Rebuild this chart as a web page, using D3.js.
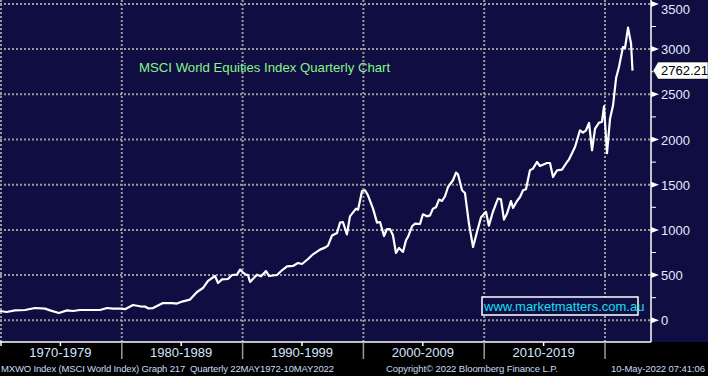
<!DOCTYPE html>
<html lang="en">
<head>
    <meta charset="UTF-8">
    <title>MSCI World Quarterly</title>
    <script src="https://d3js.org/d3.v7.min.js"></script>
    <style>
        body { margin: 0; background: #000; }
        svg { display: block; }
        text { font-family: "Liberation Sans", Arial, sans-serif; }
        .grid { stroke: #9a9a9a; stroke-width: 2; stroke-dasharray: 2,2; }
    </style>
</head>
<body>
<script>
    const width  = 708;
    const height = 376;

    // quarterly readings: decimal year, index level
    const years = [
        1970.00, 1970.55, 1971.24, 1972.07, 1972.90, 1973.73, 1974.14, 1974.88, 1975.55, 1976.04,
        1976.62, 1978.28, 1978.86, 1979.35, 1980.10, 1980.35, 1981.01, 1981.59, 1982.00, 1982.25,
        1982.67, 1983.49, 1984.24, 1984.65, 1985.15, 1985.73, 1986.31, 1986.80, 1987.22, 1987.80,
        1988.05, 1988.38, 1988.87, 1989.21, 1989.62, 1989.87, 1990.12, 1990.36, 1990.53, 1990.70,
        1991.27, 1991.61, 1992.02, 1992.27, 1992.93, 1993.34, 1993.76, 1994.25, 1994.67, 1995.00,
        1995.50, 1995.91, 1996.49, 1996.90, 1997.15, 1997.48, 1997.90, 1998.15, 1998.39, 1998.72,
        1998.97, 1999.47, 1999.64, 1999.97, 2000.22, 2000.46, 2000.88, 2001.21, 2001.46, 2001.79,
        2002.04, 2002.28, 2002.53, 2002.78, 2003.03, 2003.36, 2003.61, 2003.77, 2004.11, 2004.36,
        2004.77, 2005.01, 2005.35, 2005.60, 2005.84, 2006.09, 2006.34, 2006.59, 2006.84, 2007.09,
        2007.50, 2007.75, 2007.91, 2008.25, 2008.49, 2008.82, 2009.16, 2009.49, 2009.82, 2010.23,
        2010.47, 2010.80, 2011.22, 2011.47, 2011.72, 2011.97, 2012.30, 2012.47, 2012.80, 2013.05,
        2013.30, 2013.54, 2013.87, 2014.12, 2014.45, 2014.70, 2015.28, 2015.53, 2015.78, 2016.11,
        2016.52, 2016.94, 2017.10, 2017.44, 2017.60, 2018.01, 2018.26, 2018.51, 2018.76, 2019.01,
        2019.26, 2019.59, 2019.83, 2020.00, 2020.25, 2020.50, 2020.75, 2021.00, 2021.24, 2021.57,
        2021.74, 2021.99, 2022.24, 2022.36
    ];
    const values = [
        103, 92, 110, 114, 136, 129, 110, 81, 110, 103,
        114, 114, 136, 129, 129, 122, 169, 155, 152, 133,
        135, 191, 190, 185, 210, 229, 313, 357, 435, 490,
        413, 453, 457, 501, 505, 561, 528, 505, 500, 424,
        505, 487, 544, 490, 501, 553, 597, 601, 634, 623,
        678, 730, 782, 804, 826, 937, 966, 1081, 1087, 951,
        1150, 1235, 1224, 1430, 1438, 1383, 1235, 1081, 1087, 932,
        1010, 1010, 940, 745, 800, 756, 885, 921, 1040, 1070,
        1065, 1173, 1150, 1161, 1235, 1250, 1335, 1320, 1372, 1475,
        1549, 1634, 1615, 1438, 1408, 1070, 811, 980, 1140, 1200,
        1047, 1198, 1346, 1338, 1114, 1180, 1320, 1242, 1320, 1364,
        1438, 1449, 1659, 1678, 1751, 1707, 1740, 1740, 1585, 1659,
        1667, 1751, 1778, 1873, 1917, 2102, 2076, 2102, 2183, 1881,
        2120, 2187, 2194, 2367, 1850, 2230, 2378, 2680, 2802, 3023,
        3012, 3237, 3060, 2762.21
    ];
    const lastValue = 2762.21;

    const yTicks = [0, 500, 1000, 1500, 2000, 2500, 3000, 3500];
    const yMinor = [250, 750, 1250, 1750, 2250, 2750, 3250];
    const decades = [1970, 1980, 1990, 2000, 2010, 2020];
    const decadeLabels = ["1970-1979", "1980-1989", "1990-1999", "2000-2009", "2010-2019"];
    const halfDecades = [1975, 1985, 1995, 2005, 2015];

    const plotRight  = 651;
    const plotBottom = 342;

    const x = d3.scaleLinear().domain([1970, 1970 + plotRight / 12.08]).range([0, plotRight]);
    const y = d3.scaleLinear().domain([0, 3500]).range([320.3, 3.9]);

    const svg = d3.select("body").append("svg").attr("width", width).attr("height", height);

    svg.append("rect").attr("width", width).attr("height", height).attr("fill", "#000");
    svg.append("rect").attr("width", width).attr("height", plotBottom).attr("fill", "#100d42");

    // grid
    svg.selectAll("line.hgrid").data(yTicks).join("line").attr("class", "grid")
        .attr("x1", 0).attr("x2", plotRight)
        .attr("y1", d => y(d)).attr("y2", d => y(d));
    svg.selectAll("line.vgrid").data(decades).join("line").attr("class", "grid")
        .attr("x1", d => x(d) + 1).attr("x2", d => x(d) + 1)
        .attr("y1", 0).attr("y2", plotBottom);

    // title + watermark
    svg.append("text").attr("x", 139).attr("y", 72)
        .attr("fill", "#86f58a").attr("font-size", 13.2)
        .text("MSCI World Equities Index Quarterly Chart");

    svg.append("rect").attr("x", 482).attr("y", 297).attr("width", 156).attr("height", 18)
        .attr("fill", "#100d42").attr("stroke", "#fff").attr("stroke-width", 1.5);
    svg.append("text").attr("x", 484).attr("y", 311)
        .attr("fill", "#12e0f0").attr("font-size", 13)
        .text("www.marketmatters.com.au");

    // line
    const pts = years.map((yr, i) => [yr, values[i]]);
    svg.append("path").datum(pts)
        .attr("fill", "none").attr("stroke", "#fff").attr("stroke-width", 2.2)
        .attr("stroke-linejoin", "round")
        .attr("d", d3.line().x(d => x(d[0])).y(d => y(d[1])));

    // frame
    svg.append("line").attr("x1", plotRight).attr("x2", plotRight).attr("y1", 0).attr("y2", plotBottom)
        .attr("stroke", "#fff").attr("stroke-width", 1.5);
    svg.append("line").attr("x1", 0).attr("x2", plotRight).attr("y1", plotBottom).attr("y2", plotBottom)
        .attr("stroke", "#fff").attr("stroke-width", 1.5);

    // y axis
    const yAxis = d3.axisRight(y).tickValues(yTicks).tickFormat(d3.format("d")).tickSize(0).tickPadding(10);
    const ya = svg.append("g").attr("transform", `translate(${plotRight},0)`).call(yAxis);
    ya.select(".domain").remove();
    ya.selectAll("text")
        .attr("fill", "#e2ecff").attr("font-size", 13)
        .attr("font-family", "Liberation Sans, Arial, sans-serif")
        .attr("y", d => Math.max(y(d), 9) - y(d))
        .attr("dy", "0.36em");
    svg.selectAll("path.ytri").data(yTicks).join("path")
        .attr("fill", "#fff")
        .attr("d", d => `M${plotRight},${y(d) - 3}L${plotRight + 8},${y(d)}L${plotRight},${y(d) + 3}Z`);
    svg.selectAll("line.yminor").data(yMinor).join("line")
        .attr("stroke", "#fff").attr("stroke-width", 1)
        .attr("x1", plotRight).attr("x2", plotRight + 5)
        .attr("y1", d => y(d)).attr("y2", d => y(d));

    // last value tag
    const ly = y(lastValue);
    svg.append("path")
        .attr("fill", "#fff").attr("stroke", "#000").attr("stroke-width", 0.5)
        .attr("d", `M${plotRight + 2},${ly}L${plotRight + 7},${ly - 8.5}L${width},${ly - 8.5}L${width},${ly + 8.5}L${plotRight + 7},${ly + 8.5}Z`);
    svg.append("text").attr("x", 661).attr("y", ly).attr("dy", "0.36em")
        .attr("fill", "#000").attr("font-size", 13)
        .text(d3.format(".2f")(lastValue));

    // x axis
    svg.selectAll("line.xsep").data(decades).join("line")
        .attr("stroke", d => d === 1970 ? "#fff" : "#9a9a9a").attr("stroke-width", 1.5)
        .attr("x1", d => x(d) + 1).attr("x2", d => x(d) + 1)
        .attr("y1", plotBottom).attr("y2", d => d === 1970 ? plotBottom + 4 : plotBottom + 17);
    svg.selectAll("line.xhalf").data(halfDecades).join("line")
        .attr("stroke", "#fff").attr("stroke-width", 1.5)
        .attr("x1", d => x(d)).attr("x2", d => x(d))
        .attr("y1", plotBottom).attr("y2", plotBottom + 4);
    svg.selectAll("text.dec").data(decadeLabels).join("text")
        .attr("x", (d, i) => x(decades[i] + 5))
        .attr("y", 357)
        .attr("text-anchor", "middle")
        .attr("fill", "#d8e6ff").attr("font-size", 13)
        .text(d => d);

    // footer
    const foot = svg.append("g").attr("fill", "#c9dcf5").attr("font-size", 9.5)
        .attr("font-family", "DejaVu Sans, sans-serif");
    foot.append("text").attr("x", 1).attr("y", 372).attr("textLength", 333)
        .text("MXWO Index (MSCI World Index) Graph 217\u00A0 Quarterly 22MAY1972-10MAY2022");
    foot.append("text").attr("x", 386).attr("y", 372).attr("textLength", 172)
        .text("Copyright\u00A9 2022 Bloomberg Finance L.P.");
    foot.append("text").attr("x", 611).attr("y", 372).attr("textLength", 94)
        .text("10-May-2022 07:41:06");
</script>
</body>
</html>
